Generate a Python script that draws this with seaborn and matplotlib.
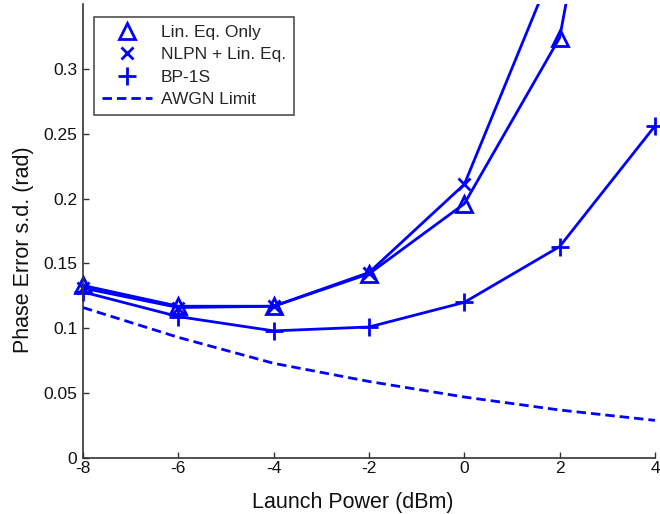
import matplotlib
matplotlib.use("Agg")
import matplotlib.pyplot as plt
import seaborn as sns
import pandas as pd
from matplotlib.lines import Line2D

power = [-8, -6, -4, -2, 0, 2, 4]
lin_eq = [0.133, 0.117, 0.117, 0.142, 0.196, 0.324, 0.72]
nlpn = [0.131, 0.116, 0.117, 0.143, 0.211, 0.39, 0.80]
bp1s = [0.128, 0.109, 0.098, 0.101, 0.120, 0.163, 0.256]
awgn = [0.116, 0.093, 0.073, 0.059, 0.047, 0.037, 0.029]
labels = ["Lin. Eq. Only", "NLPN + Lin. Eq.", "BP-1S", "AWGN Limit"]

sns.set_theme(style="white")
plt.rcParams['font.family'] = ['Liberation Sans', 'DejaVu Sans']

blue = "#0000ff"
dash = (0, (3.4, 1.8))
YMAX = 0.35
fig = plt.figure(figsize=(6.6, 5.14), dpi=100)
ax = fig.add_axes([83 / 660, 56 / 514, 572 / 660, 454 / 514])

df = pd.DataFrame({"x": power, "lin": lin_eq, "nlpn": nlpn, "bp": bp1s, "awgn": awgn})
styles = {
    "lin": dict(marker="^", markersize=11, markerfacecolor="none", markeredgewidth=2),
    "nlpn": dict(marker="x", markersize=9, markeredgewidth=2),
    "bp": dict(marker="+", markersize=13, markeredgewidth=2),
}
for col, st in styles.items():
    # line (clipped to axes)
    sns.lineplot(data=df, x="x", y=col, ax=ax, color=blue, lw=2)
    # markers (not clipped, only those inside the y range)
    vis = df[df[col] <= YMAX]
    sns.lineplot(data=vis, x="x", y=col, ax=ax, color=blue, linestyle="none",
                 markeredgecolor=blue, clip_on=False, **st)
sns.lineplot(data=df, x="x", y="awgn", ax=ax, color=blue, lw=2, linestyle=dash)

ax.set_xlim(-8, 4)
ax.set_ylim(0, YMAX)
ax.set_xticks(power)
ax.set_xticklabels([str(p) for p in power])
yt = [0, 0.05, 0.1, 0.15, 0.2, 0.25, 0.3]
ax.set_yticks(yt)
ax.set_yticklabels(["0", "0.05", "0.1", "0.15", "0.2", "0.25", "0.3"])
ax.tick_params(direction="in", length=4, width=1, labelsize=12.5, colors="#333333",
               labelcolor="#111111", bottom=True, left=True)
ax.tick_params(axis="y", pad=4)
ax.tick_params(axis="x", pad=2)
for s in ["top", "right"]:
    ax.spines[s].set_visible(False)
for s in ["left", "bottom"]:
    ax.spines[s].set_color("#333333")
    ax.spines[s].set_linewidth(1.2)
ax.set_xlabel("Launch Power (dBm)", fontsize=15.5, labelpad=10, color="#111111")
ax.set_ylabel("Phase Error s.d. (rad)", fontsize=15.5, labelpad=8, color="#111111")
ax.xaxis.set_label_coords(0.472, -0.075)
ax.yaxis.set_label_coords(-0.085, 0.458)

handles = [
    Line2D([], [], color=blue, marker="^", markersize=11, markerfacecolor="none",
           markeredgewidth=2, linestyle="none"),
    Line2D([], [], color=blue, marker="x", markersize=9, markeredgewidth=2, linestyle="none"),
    Line2D([], [], color=blue, marker="+", markersize=13, markeredgewidth=2, linestyle="none"),
    Line2D([], [], color=blue, lw=2, linestyle=dash),
]
leg = ax.legend(handles, labels, loc="upper left", bbox_to_anchor=(11 / 572, 441 / 454),
                borderaxespad=0, fontsize=12.5, frameon=True, fancybox=False,
                edgecolor="#222222", handlelength=2.9, borderpad=0.45, labelspacing=0.42,
                handletextpad=0.5)
leg.get_frame().set_linewidth(1.2)

fig.savefig("out.png", dpi=100)
